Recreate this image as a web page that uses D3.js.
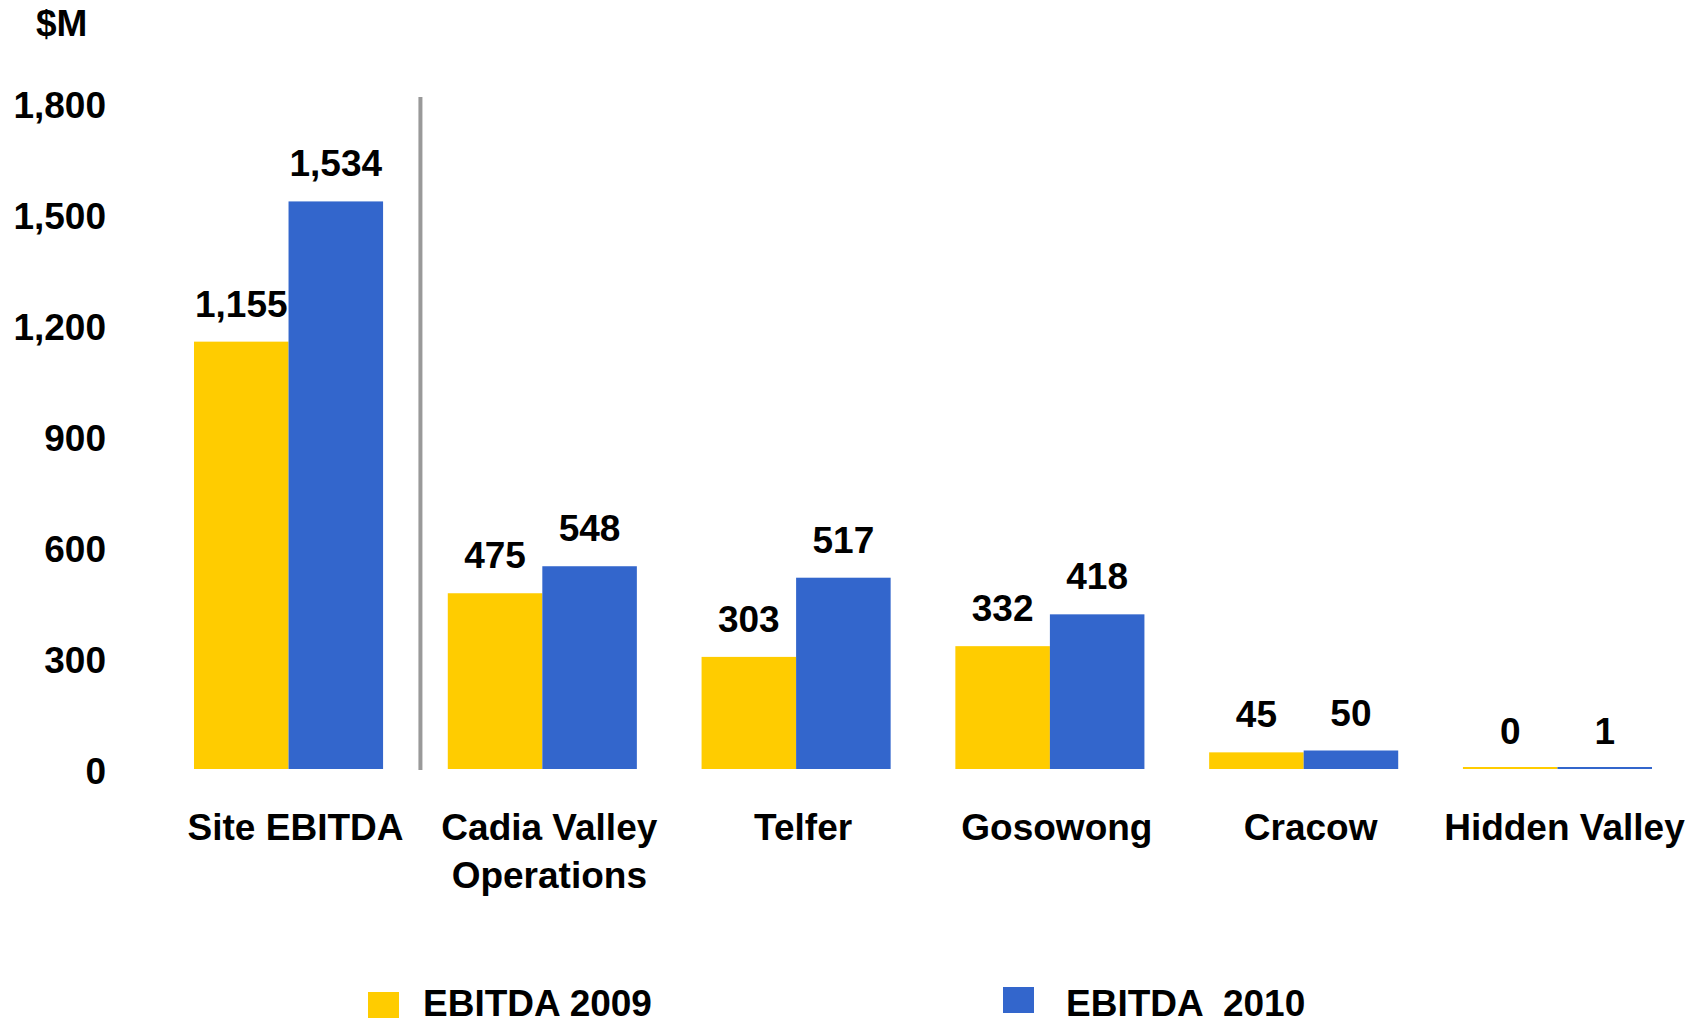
<!DOCTYPE html>
<html>
<head>
<meta charset="utf-8">
<script src="https://cdn.jsdelivr.net/npm/d3@7"></script>
<style>
  body { margin: 0; background: #fff; }
  text { font-family: "Liberation Sans", Arial, sans-serif; font-weight: bold; fill: #000; }
</style>
</head>
<body>
<script>
const width = 1708;
const height = 1021;

// Chart data.
const categories = ["Site EBITDA", "Cadia Valley\nOperations", "Telfer", "Gosowong", "Cracow", "Hidden Valley"];
const ebitda2009 = [1155, 475, 303, 332, 45, 0];
const ebitda2010 = [1534, 548, 517, 418, 50, 1];
const seriesNames = ["EBITDA 2009", "EBITDA  2010"];
const yTicks = [0, 300, 600, 900, 1200, 1500, 1800];

const colors = ["#FFCC00", "#3366CC"];
const fontSize = "37px";

const svg = d3.select("body").append("svg")
  .attr("width", width)
  .attr("height", height);

svg.append("rect").attr("width", width).attr("height", height).attr("fill", "#fff");

// Scales.
const x = d3.scaleBand()
  .domain(categories)
  .range([194, 1652])
  .paddingInner(0.255)
  .paddingOuter(0);

const xSub = d3.scaleBand()
  .domain([0, 1])
  .range([0, x.bandwidth()]);

const y = d3.scaleLinear()
  .domain([0, 1800])
  .range([769, 103]);

// Y axis labels only (no line, no ticks).
const yAxis = svg.append("g")
  .attr("transform", "translate(106,0)")
  .call(d3.axisLeft(y).tickValues(yTicks).tickFormat(d3.format(",")).tickSize(0).tickPadding(0));
yAxis.select(".domain").remove();
yAxis.selectAll("text")
  .attr("dy", "0.38em")
  .style("font-size", fontSize)
  .style("font-family", "'Liberation Sans', Arial, sans-serif")
  .style("font-weight", "bold")
  .attr("fill", "#000");

// Unit label.
svg.append("text")
  .attr("x", 36)
  .attr("y", 36)
  .style("font-size", fontSize)
  .text("$M");

// Separator line between total and sites.
const sepX = (x(categories[0]) + x.bandwidth() + x(categories[1])) / 2 + 5;
svg.append("line")
  .attr("x1", sepX).attr("x2", sepX)
  .attr("y1", y(1800) - 6).attr("y2", y(0) + 1)
  .attr("stroke", "#999")
  .attr("stroke-width", 4);

// Bars.
const series = [ebitda2009, ebitda2010];
const barData = [];
categories.forEach((c, i) => {
  series.forEach((s, j) => barData.push({ cat: c, s: j, v: s[i] }));
});

svg.selectAll(".bar")
  .data(barData)
  .enter()
  .append("rect")
  .attr("class", "bar")
  .attr("x", d => x(d.cat) + xSub(d.s))
  .attr("width", xSub.bandwidth())
  .attr("y", d => Math.min(y(d.v), y(0) - 2))
  .attr("height", d => Math.max(y(0) - y(d.v), 2))
  .attr("fill", d => colors[d.s]);

// Value labels.
svg.selectAll(".val")
  .data(barData)
  .enter()
  .append("text")
  .attr("class", "val")
  .attr("x", d => x(d.cat) + xSub(d.s) + xSub.bandwidth() / 2)
  .attr("y", d => y(d.v) - 25)
  .attr("text-anchor", "middle")
  .style("font-size", fontSize)
  .text(d => d3.format(",")(d.v));

// Category labels.
const catLabels = svg.selectAll(".cat")
  .data(categories)
  .enter()
  .append("text")
  .attr("class", "cat")
  .attr("text-anchor", "middle")
  .attr("y", 840)
  .style("font-size", fontSize);

catLabels.each(function(d) {
  const lines = d.split("\n");
  const t = d3.select(this);
  lines.forEach((line, i) => {
    t.append("tspan")
      .attr("x", x(d) + x.bandwidth() / 2 + 7)
      .attr("dy", i === 0 ? 0 : 48)
      .text(line);
  });
});

// Legend.
const legendItems = [
  { name: seriesNames[0], color: colors[0], sx: 368, sy: 992, tx: 423 },
  { name: seriesNames[1], color: colors[1], sx: 1003, sy: 987, tx: 1066 }
];
const legend = svg.selectAll(".legend")
  .data(legendItems)
  .enter()
  .append("g")
  .attr("class", "legend");

legend.append("rect")
  .attr("x", d => d.sx)
  .attr("y", d => d.sy)
  .attr("width", 31)
  .attr("height", 26)
  .attr("fill", d => d.color);

legend.append("text")
  .attr("x", d => d.tx)
  .attr("y", 1016)
  .style("font-size", fontSize)
  .style("white-space", "pre")
  .attr("xml:space", "preserve")
  .text(d => d.name);
</script>
</body>
</html>
